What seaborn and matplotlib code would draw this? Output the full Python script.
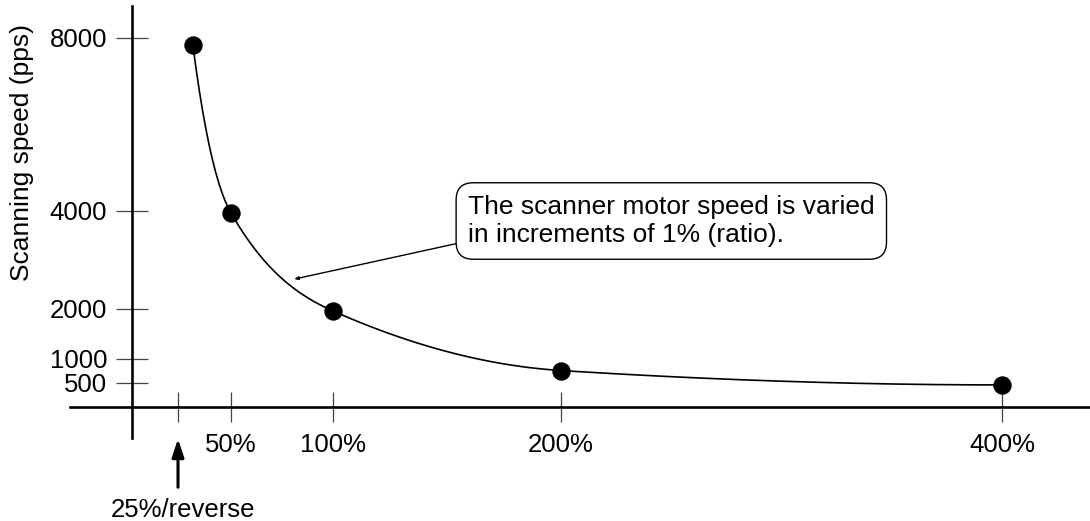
import numpy as np
import pandas as pd
import matplotlib
matplotlib.use("Agg")
import matplotlib.pyplot as plt
import seaborn as sns

# data
ratio = [32, 50, 100, 200, 400]          # scanning ratio (%)
speed = [7840, 3960, 1960, 760, 460]     # scanning speed (pps)

xticks = [25, 50, 100, 200, 400]
xticklabels = ["", "50%", "100%", "200%", "400%"]
yticks = [500, 1000, 2000, 4000, 8000]
yticklabels = ["500", "1000", "2000", "4000", "8000"]

# the original drawing is not to scale -> piecewise linear axes
x_knots = [0, 25, 50, 100, 200, 400]
x_pix = [0, 46, 99, 201, 429, 870]
y_knots = [0, 500, 1000, 2000, 4000, 8000]
y_pix = [0, 24, 48, 98, 196, 369]


def piecewise(a, b):
    a = np.asarray(a, float)
    b = np.asarray(b, float)

    def f(v):
        v = np.asarray(v, float)
        out = np.interp(v, a, b)
        out = np.where(v < a[0], b[0] + (v - a[0]) * (b[1] - b[0]) / (a[1] - a[0]), out)
        out = np.where(v > a[-1], b[-1] + (v - a[-1]) * (b[-1] - b[-2]) / (a[-1] - a[-2]), out)
        return out
    return f


fx, fx_inv = piecewise(x_knots, x_pix), piecewise(x_pix, x_knots)
fy, fy_inv = piecewise(y_knots, y_pix), piecewise(y_pix, y_knots)


def smooth(xp, yp, n=500):
    # convex cubic Hermite: Fritsch-Carlson slopes inside, ends picked to stay convex
    xp = np.asarray(xp, float)
    yp = np.asarray(yp, float)
    h = np.diff(xp)
    d = np.diff(yp) / h
    m = np.zeros_like(yp)
    for k in range(1, len(xp) - 1):
        if d[k - 1] * d[k] > 0:
            w1 = 2 * h[k] + h[k - 1]
            w2 = h[k] + 2 * h[k - 1]
            m[k] = (w1 + w2) / (w1 / d[k - 1] + w2 / d[k])
    m[0] = 0.5 * ((3 * d[0] - m[1]) / 2 + (3 * d[0] - 2 * m[1]))
    m[-1] = 0.5 * ((3 * d[-1] - m[-2]) / 2 + (3 * d[-1] - 2 * m[-2]))
    if m[-1] * d[-1] < 0:
        m[-1] = 0
    xs = np.linspace(xp[0], xp[-1], n)
    i = np.clip(np.searchsorted(xp, xs) - 1, 0, len(xp) - 2)
    t = (xs - xp[i]) / h[i]
    ys = ((2 * t**3 - 3 * t**2 + 1) * yp[i] + (t**3 - 2 * t**2 + t) * h[i] * m[i]
          + (-2 * t**3 + 3 * t**2) * yp[i + 1] + (t**3 - t**2) * h[i] * m[i + 1])
    return xs, ys


sns.set_theme(style="white")
plt.rcParams["font.family"] = ["Liberation Sans", "DejaVu Sans"]
plt.rcParams["text.color"] = "black"
plt.rcParams["axes.labelcolor"] = "black"

fig = plt.figure(figsize=(10.9, 5.21), dpi=100)
ax = fig.add_axes([70 / 1090, 83 / 521, 1020 / 1090, 432 / 521])
ax.set_xscale("function", functions=(fx, fx_inv))
ax.set_yscale("function", functions=(fy, fy_inv))
ax.set_xlim(float(fx_inv(-62)), float(fx_inv(958)))
ax.set_ylim(float(fy_inv(-31)), float(fy_inv(401)))

# smooth curve drawn in screen space, then mapped back to data
cx, cy = smooth(fx(ratio), fy(speed))
curve = pd.DataFrame({"ratio": fx_inv(cx), "speed": fy_inv(cy)})
sns.lineplot(data=curve, x="ratio", y="speed", sort=False, estimator=None,
             color="black", lw=1.2, ax=ax)
df = pd.DataFrame({"ratio": ratio, "speed": speed})
sns.scatterplot(data=df, x="ratio", y="speed", color="black", s=150,
                edgecolor="black", zorder=3, ax=ax)

for s in ["top", "right"]:
    ax.spines[s].set_visible(False)
ax.spines["left"].set_position(("data", 0))
ax.spines["bottom"].set_position(("data", 0))
for s in ["left", "bottom"]:
    ax.spines[s].set_color("black")
    ax.spines[s].set_linewidth(1.9)

ax.set_xticks(xticks)
ax.set_xticklabels(xticklabels)
ax.set_yticks(yticks)
ax.set_yticklabels(yticklabels)
ax.tick_params(axis="x", direction="inout", length=22, width=0.9, color="#444444",
               labelcolor="black", labelsize=18.5, pad=8, bottom=True)
ax.tick_params(axis="y", direction="inout", length=23, width=0.9, color="#444444",
               labelcolor="black", labelsize=18.5, pad=6.5, left=True)
ax.set_xlabel("")
ax.set_ylabel("Scanning speed (pps)", fontsize=19)
ax.yaxis.set_label_coords(-0.047, 0.66)
ax.yaxis.label.set_verticalalignment("center")

# 25% marker arrow
ax.annotate("", xy=(25, -0.002), xycoords=("data", "axes fraction"),
            xytext=(25, -0.114), textcoords=("data", "axes fraction"),
            arrowprops=dict(arrowstyle="-|>,head_length=0.9,head_width=0.3",
                            color="black", lw=2.2, shrinkA=0, shrinkB=0))
ax.text(fx_inv(fx(25) + 5), -0.14, "25%/reverse", transform=ax.get_xaxis_transform(),
        ha="center", va="top", fontsize=18.5)

# callout
ax.annotate("The scanner motor speed is varied\nin increments of 1% (ratio).",
            xy=(81, 2610), xycoords="data",
            xytext=(468, 521 - 221), textcoords="figure pixels",
            ha="left", va="center", fontsize=19, linespacing=1.25,
            bbox=dict(boxstyle="round,pad=0.45,rounding_size=0.65", fc="white",
                      ec="black", lw=1),
            arrowprops=dict(arrowstyle="-|>,head_length=0.12,head_width=0.05",
                            color="black", lw=1, relpos=(0, 0.12),
                            shrinkA=0, shrinkB=0))

fig.savefig("out.png", dpi=100)
